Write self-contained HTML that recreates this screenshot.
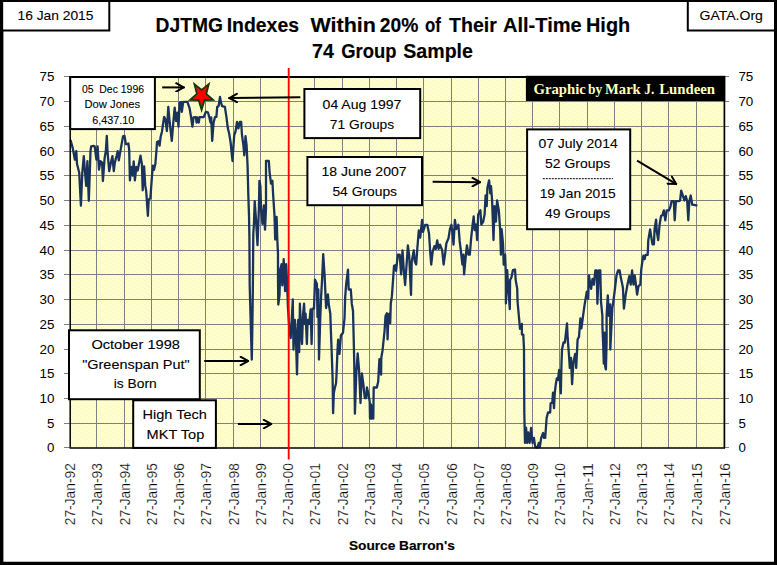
<!DOCTYPE html>
<html lang="en"><head><meta charset="utf-8"><title>DJTMG Indexes Within 20% of Their All-Time High</title>
<style>html,body{margin:0;padding:0;background:#fff;}body{width:777px;height:565px;overflow:hidden;}svg{display:block;}text{font-family:"Liberation Sans",sans-serif;fill:#000;stroke:#000;stroke-width:0.1px;}.b{font-weight:bold;}.b{stroke-width:0.15px;}.ax{stroke:none;}.xl{stroke:#fff;stroke-width:0.2px;}.ser{font-family:"Liberation Serif",serif;font-weight:bold;fill:#FFFFC0;stroke:none;}</style></head><body>
<svg width="777" height="565" viewBox="0 0 777 565">
<defs><pattern id="dots" width="8" height="8" patternUnits="userSpaceOnUse"><rect width="8" height="8" fill="#FFFFCC"/><path d="M0,0h1v1h-1zM4,1h1v1h-1zM2,2h1v1h-1zM6,3h1v1h-1zM1,4h1v1h-1zM4,5h1v1h-1zM7,6h1v1h-1zM2,6h1v1h-1zM5,7h1v1h-1z" fill="#F7EFC5"/></pattern><marker id="ah" viewBox="0 0 10 10" refX="9.8" refY="5" markerWidth="10" markerHeight="10" markerUnits="userSpaceOnUse" orient="auto"><path d="M1.5,0.8 L9,5 L1.5,9.2" fill="none" stroke="#000" stroke-width="2" stroke-linecap="round" stroke-linejoin="miter"/></marker></defs>
<rect x="0" y="0" width="777" height="565" fill="#fff"/>
<rect x="70.2" y="76.46" width="654.20" height="371.14" fill="url(#dots)"/>
<path d="M96.50,76.46V447.60M124.50,76.46V447.60M151.50,76.46V447.60M178.50,76.46V447.60M205.50,76.46V447.60M233.50,76.46V447.60M260.50,76.46V447.60M288.00,76.46V447.60M314.50,76.46V447.60M342.50,76.46V447.60M369.50,76.46V447.60M396.50,76.46V447.60M423.50,76.46V447.60M451.50,76.46V447.60M478.50,76.46V447.60M505.50,76.46V447.60M532.50,76.46V447.60M559.50,76.46V447.60M587.50,76.46V447.60M614.50,76.46V447.60M641.50,76.46V447.60M668.50,76.46V447.60M696.50,76.46V447.60M70.2,423.50H724.40M70.2,398.50H724.40M70.2,373.50H724.40M70.2,349.50H724.40M70.2,324.50H724.40M70.2,299.50H724.40M70.2,274.50H724.40M70.2,250.50H724.40M70.2,225.50H724.40M70.2,200.50H724.40M70.2,175.50H724.40M70.2,151.50H724.40M70.2,126.50H724.40M70.2,101.50H724.40" stroke="#808080" stroke-width="1" fill="none" shape-rendering="crispEdges"/>
<path d="M63.90,447.60H70.2M724.40,447.60H729.00M63.90,423.50H70.2M724.40,423.50H729.00M63.90,398.50H70.2M724.40,398.50H729.00M63.90,373.50H70.2M724.40,373.50H729.00M63.90,349.50H70.2M724.40,349.50H729.00M63.90,324.50H70.2M724.40,324.50H729.00M63.90,299.50H70.2M724.40,299.50H729.00M63.90,274.50H70.2M724.40,274.50H729.00M63.90,250.50H70.2M724.40,250.50H729.00M63.90,225.50H70.2M724.40,225.50H729.00M63.90,200.50H70.2M724.40,200.50H729.00M63.90,175.50H70.2M724.40,175.50H729.00M63.90,151.50H70.2M724.40,151.50H729.00M63.90,126.50H70.2M724.40,126.50H729.00M63.90,101.50H70.2M724.40,101.50H729.00M63.90,76.46H70.2M724.40,76.46H729.00" stroke="#808080" stroke-width="1" fill="none" shape-rendering="crispEdges"/>
<path d="M70.7,140.6 L72.8,148.4 L74.9,159.7 L76.3,151.2 L77.0,164.0 L79.2,172.5 L80.9,205.7 L82.3,172.5 L83.8,156.2 L84.8,169.6 L86.2,185.9 L87.4,161.2 L88.8,200.8 L89.8,172.5 L90.5,151.2 L91.2,146.3 L93.3,145.9 L94.7,146.3 L96.4,159.7 L97.6,146.3 L99.0,169.6 L100.4,161.2 L102.1,162.6 L102.9,181.0 L104.6,158.3 L105.8,151.2 L106.8,135.9 L107.5,151.2 L109.2,171.1 L110.6,164.0 L112.4,156.2 L113.8,171.1 L114.8,162.6 L116.7,155.5 L117.7,151.2 L118.8,160.4 L120.9,148.4 L123.0,136.4 L124.5,135.9 L125.9,144.2 L127.3,144.2 L128.4,143.4 L129.2,150.0 L129.9,180.4 L131.3,167.0 L132.7,175.5 L133.7,161.3 L134.9,180.4 L136.3,167.0 L137.7,170.5 L140.5,155.7 L141.9,164.2 L142.7,190.3 L144.1,166.3 L145.2,185.4 L146.2,191.1 L147.9,215.8 L148.7,199.6 L150.4,198.1 L151.8,178.3 L152.8,165.6 L154.0,169.8 L155.4,163.4 L156.5,150.0 L157.0,142.0 L158.4,141.3 L159.6,145.6 L160.6,137.1 L162.0,131.4 L164.1,116.8 L165.5,119.6 L166.9,131.0 L168.3,106.9 L169.7,122.5 L171.8,140.9 L173.3,122.5 L174.7,107.6 L176.1,121.1 L177.5,112.6 L178.5,126.7 L179.6,102.7 L181.1,101.9 L181.8,111.8 L183.2,101.9 L187.4,101.9 L189.6,108.3 L191.0,116.8 L192.4,126.7 L193.5,117.5 L195.9,117.1 L196.6,122.5 L197.3,117.5 L198.8,122.5 L199.5,117.1 L203.7,117.1 L205.8,111.8 L207.9,112.3 L209.4,117.5 L210.5,122.5 L211.2,117.5 L212.2,140.9 L213.6,122.5 L215.0,117.1 L216.4,116.8 L217.2,106.9 L218.6,106.2 L220.0,97.0 L221.0,102.7 L222.1,106.2 L224.9,106.9 L226.4,116.8 L227.8,128.1 L229.2,133.8 L230.6,142.3 L232.0,156.4 L232.5,161.0 L233.4,146.8 L234.2,135.5 L235.6,131.2 L237.0,122.0 L238.4,128.4 L239.8,122.0 L241.2,122.0 L241.9,134.1 L243.4,145.4 L244.3,155.3 L245.5,136.2 L246.6,145.4 L247.6,166.6 L248.3,194.2 L249.0,215.4 L249.4,236.6 L249.7,285.4 L250.9,330.0 L251.8,359.6 L252.3,330.0 L252.8,292.5 L253.3,233.8 L254.0,222.5 L254.7,201.2 L256.1,221.1 L257.5,245.1 L258.9,208.3 L259.4,180.8 L260.4,186.4 L261.1,209.7 L262.5,223.9 L263.9,205.5 L265.0,229.6 L266.0,208.3 L266.0,161.0 L268.8,161.0 L269.6,172.3 L271.0,183.6 L272.4,180.8 L273.1,194.2 L274.5,215.4 L275.2,239.5 L276.6,216.8 L277.3,239.5 L278.0,253.6 L278.0,278.3 L278.3,304.5 L279.5,295.3 L280.2,269.8 L281.6,264.2 L282.3,285.4 L283.7,259.2 L285.1,291.1 L286.2,264.2 L287.2,285.4 L287.9,306.6 L289.4,330.0 L290.7,338.0 L292.8,299.5 L293.5,349.6 L294.9,320.0 L295.7,330.0 L297.0,374.4 L298.2,320.0 L299.2,352.0 L299.9,303.7 L301.0,330.0 L302.0,344.0 L303.0,315.0 L304.1,303.7 L304.8,324.0 L305.6,313.7 L306.9,344.0 L307.6,320.0 L309.1,324.0 L310.6,309.5 L311.6,344.0 L312.5,308.7 L314.0,308.7 L315.0,279.6 L316.9,284.0 L317.5,317.0 L318.3,289.5 L319.0,359.5 L320.2,320.0 L321.1,296.6 L322.1,279.6 L323.2,254.2 L324.6,275.4 L326.1,308.0 L327.9,294.5 L328.9,305.1 L330.3,313.6 L330.8,328.4 L331.7,352.5 L332.6,378.0 L333.1,413.2 L333.8,393.4 L334.5,389.2 L336.0,383.5 L336.5,375.1 L337.4,352.5 L338.1,339.7 L339.5,353.9 L340.9,335.5 L343.0,332.7 L344.5,318.5 L345.2,296.6 L346.2,283.9 L348.0,269.7 L348.7,289.5 L350.8,289.5 L351.8,303.7 L353.0,310.8 L354.2,359.2 L354.9,413.7 L356.3,373.3 L357.7,353.5 L359.1,370.5 L360.5,403.0 L361.9,373.3 L363.4,384.6 L364.8,398.1 L366.2,398.1 L366.9,387.5 L368.3,393.1 L369.7,401.6 L370.0,418.6 L370.9,404.5 L371.6,418.6 L372.4,405.9 L373.3,418.6 L373.7,387.5 L376.8,387.5 L378.2,381.8 L379.4,359.2 L381.1,374.7 L381.3,357.7 L382.5,350.7 L384.5,331.6 L385.5,316.1 L386.9,313.2 L387.6,339.4 L388.4,314.6 L389.8,313.2 L390.2,323.1 L390.8,303.3 L391.9,296.2 L392.9,282.1 L394.0,265.9 L395.4,265.2 L396.1,270.8 L397.8,254.6 L399.7,254.6 L401.1,274.4 L402.5,250.3 L403.9,271.5 L405.1,285.0 L406.8,261.6 L407.9,245.3 L409.2,256.0 L411.0,294.9 L411.7,261.6 L413.8,250.3 L414.8,261.6 L416.2,264.5 L417.4,247.5 L418.8,230.5 L420.2,237.6 L422.1,219.9 L423.0,231.9 L425.2,224.8 L427.3,224.8 L429.0,233.3 L430.1,250.3 L431.2,264.5 L432.7,251.7 L434.4,246.1 L435.8,248.9 L437.2,240.4 L438.6,248.9 L440.0,244.6 L442.2,250.3 L443.6,264.5 L445.0,254.6 L446.4,243.2 L448.5,238.3 L449.9,229.1 L451.4,224.8 L452.5,233.3 L453.5,244.6 L454.9,219.9 L456.3,229.1 L458.4,224.8 L459.6,240.4 L461.3,254.6 L462.4,264.5 L463.4,254.6 L464.1,274.4 L465.8,256.0 L466.9,245.3 L468.4,254.6 L469.8,254.6 L471.2,237.6 L472.6,224.8 L473.7,216.3 L474.7,230.1 L476.1,224.5 L477.1,240.0 L478.2,214.6 L480.4,210.3 L481.3,224.5 L483.2,221.6 L484.6,214.6 L485.6,195.4 L486.7,206.1 L487.4,187.7 L489.1,180.3 L490.3,193.3 L491.0,186.2 L492.1,200.4 L493.5,240.0 L494.5,206.1 L495.9,221.6 L497.1,200.4 L498.8,210.3 L500.2,230.1 L500.9,254.6 L501.6,229.2 L503.0,243.3 L503.7,264.6 L505.1,254.6 L505.8,274.5 L505.9,303.4 L507.2,270.2 L507.9,282.9 L509.8,309.1 L510.1,280.1 L511.5,277.3 L512.9,270.2 L515.0,269.5 L515.7,280.1 L517.2,288.6 L517.6,302.0 L519.0,317.6 L520.0,328.9 L521.9,323.9 L521.9,334.6 L523.3,334.6 L524.0,348.7 L524.3,412.5 L525.0,442.9 L526.1,428.0 L527.1,442.9 L528.2,432.3 L529.6,442.9 L531.1,428.0 L532.5,442.9 L533.9,437.9 L535.3,447.2 L537.4,447.6 L538.8,442.9 L539.8,447.2 L541.2,437.9 L543.1,433.0 L544.1,437.9 L545.2,437.9 L546.6,418.1 L548.0,412.5 L550.2,412.5 L550.6,403.3 L552.3,402.6 L553.0,392.6 L554.0,408.2 L554.8,392.6 L555.8,384.2 L556.8,378.5 L558.0,379.9 L559.1,370.0 L560.8,393.4 L561.5,362.9 L562.0,349.6 L563.5,342.5 L564.9,342.5 L567.0,323.4 L567.7,338.2 L569.1,356.6 L569.8,367.9 L571.0,358.0 L572.1,384.2 L573.4,362.3 L575.2,353.8 L576.2,367.9 L577.6,339.6 L579.0,336.8 L580.4,318.4 L581.4,328.3 L583.3,314.2 L584.7,304.2 L586.8,291.7 L588.2,298.8 L588.9,275.4 L591.1,288.9 L592.5,279.0 L593.9,284.6 L595.3,270.5 L596.7,270.5 L597.4,303.8 L598.8,270.5 L600.3,270.5 L601.0,301.6 L602.4,315.8 L602.4,325.5 L603.1,342.5 L603.8,363.7 L604.6,332.6 L605.2,366.5 L605.9,369.4 L606.6,342.5 L606.6,315.8 L607.8,295.3 L608.8,315.8 L610.2,304.5 L610.3,349.5 L612.3,308.7 L613.7,298.8 L615.1,287.5 L616.5,275.4 L618.0,270.5 L619.6,270.5 L620.8,277.6 L622.9,287.5 L623.9,308.7 L625.7,294.6 L627.2,286.1 L629.3,276.1 L630.7,284.6 L632.1,270.5 L633.5,284.6 L634.7,275.4 L636.1,286.1 L637.1,294.6 L638.5,286.1 L640.3,284.6 L641.3,269.1 L642.7,259.2 L643.4,255.6 L644.6,259.2 L645.6,254.9 L647.7,254.9 L648.3,240.1 L650.1,229.5 L651.1,235.9 L652.5,244.4 L653.9,244.4 L654.6,228.8 L656.1,219.6 L656.8,231.6 L658.2,240.1 L659.6,224.6 L661.0,216.1 L662.4,215.3 L663.8,210.4 L665.3,220.3 L666.7,210.4 L668.8,210.4 L670.2,207.6 L671.6,201.2 L673.8,201.2 L674.7,220.3 L675.9,201.2 L678.7,201.2 L680.1,200.5 L681.2,190.6 L683.0,196.2 L684.4,200.5 L685.8,196.2 L687.2,201.2 L688.3,220.3 L689.3,201.2 L690.7,195.5 L692.2,204.7 L696.4,205.4" stroke="#1a335c" stroke-width="2.3" fill="none" stroke-linejoin="round" stroke-linecap="round"/>
<path d="M69.5,77H725.10" stroke="#000" stroke-width="2"/>
<path d="M70.2,76.46V447.60" stroke="#000" stroke-width="1.5"/>
<path d="M724.40,76.46V448.20" stroke="#000" stroke-width="1.7"/>
<path d="M69.60000000000001,447.90H725.00" stroke="#000" stroke-width="1.5"/>
<path d="M288.7,68V459.5" stroke="#f00" stroke-width="1.85"/>
<rect x="525.9" y="75.8" width="199.3" height="25.2" fill="#000"/>
<text class="ser" x="533.50" y="94.2" font-size="13.9" textLength="52.39" lengthAdjust="spacingAndGlyphs">Graphic</text>
<text class="ser" x="588.10" y="94.2" font-size="13.9" textLength="14.24" lengthAdjust="spacingAndGlyphs">by</text>
<text class="ser" x="605.10" y="94.2" font-size="13.9" textLength="35.64" lengthAdjust="spacingAndGlyphs">Mark</text>
<text class="ser" x="644.30" y="94.2" font-size="13.9" textLength="10.03" lengthAdjust="spacingAndGlyphs">J.</text>
<text class="ser" x="659.20" y="94.2" font-size="13.9" textLength="55.84" lengthAdjust="spacingAndGlyphs">Lundeen</text>
<rect x="70.20" y="77.00" width="84.70" height="52.10" fill="#fff" stroke="#000" stroke-width="2"/>
<text x="81.90" y="92.8" font-size="11.4" textLength="62.11" lengthAdjust="spacingAndGlyphs">05 &#160;Dec 1996</text>
<text x="84.50" y="108.1" font-size="11.4" textLength="55.50" lengthAdjust="spacingAndGlyphs">Dow Jones</text>
<text x="92.20" y="123.5" font-size="11.4" textLength="42.02" lengthAdjust="spacingAndGlyphs">6,437.10</text>
<rect x="304.40" y="89.00" width="115.80" height="49.10" fill="#fff" stroke="#000" stroke-width="2"/>
<text x="322.60" y="108.5" font-size="13.3" textLength="78.81" lengthAdjust="spacingAndGlyphs">04 Aug 1997</text>
<text x="329.80" y="128.6" font-size="13.3" textLength="64.34" lengthAdjust="spacingAndGlyphs">71 Groups</text>
<rect x="307.40" y="157.00" width="114.60" height="48.20" fill="#fff" stroke="#000" stroke-width="2"/>
<text x="321.55" y="175.8" font-size="13.3" textLength="84.97" lengthAdjust="spacingAndGlyphs">18 June 2007</text>
<text x="332.40" y="195.9" font-size="13.3" textLength="64.63" lengthAdjust="spacingAndGlyphs">54 Groups</text>
<rect x="527.10" y="129.40" width="103.10" height="99.80" fill="#fff" stroke="#000" stroke-width="2"/>
<text x="538.40" y="148.3" font-size="13.3" textLength="79.32" lengthAdjust="spacingAndGlyphs">07 July 2014</text>
<text x="545.10" y="167.9" font-size="13.3" textLength="65.03" lengthAdjust="spacingAndGlyphs">52 Groups</text>
<path d="M542.8,178.7H612.9" stroke="#000" stroke-width="1" stroke-dasharray="2,1"/>
<text x="539.66" y="197.7" font-size="13.3" textLength="75.95" lengthAdjust="spacingAndGlyphs">19 Jan 2015</text>
<text x="545.10" y="217.5" font-size="13.3" textLength="65.03" lengthAdjust="spacingAndGlyphs">49 Groups</text>
<rect x="69.00" y="330.30" width="130.80" height="68.90" fill="#fff" stroke="#000" stroke-width="2"/>
<text x="91.40" y="349.1" font-size="13.3" textLength="88.53" lengthAdjust="spacingAndGlyphs">October 1998</text>
<text x="82.20" y="368.5" font-size="13.3" textLength="107.50" lengthAdjust="spacingAndGlyphs">"Greenspan Put"</text>
<text x="113.70" y="388.1" font-size="13.3" textLength="43.01" lengthAdjust="spacingAndGlyphs">is Born</text>
<rect x="133.20" y="400.30" width="82.70" height="47.60" fill="#fff" stroke="#000" stroke-width="2"/>
<text x="142.51" y="419.0" font-size="13.3" textLength="64.32" lengthAdjust="spacingAndGlyphs">High Tech</text>
<text x="146.62" y="438.9" font-size="13.3" textLength="57.71" lengthAdjust="spacingAndGlyphs">MKT Top</text>
<path d="M162.2,87.4L184.5,87.4" stroke="#000" stroke-width="2" fill="none" marker-end="url(#ah)"/>
<path d="M300.3,97.2L228.6,98.1" stroke="#000" stroke-width="2" fill="none" marker-end="url(#ah)"/>
<path d="M432.6,181.8L480.8,182.2" stroke="#000" stroke-width="2" fill="none" marker-end="url(#ah)"/>
<path d="M637.1,160.6L676.8,184.4" stroke="#000" stroke-width="2" fill="none" marker-end="url(#ah)"/>
<path d="M204.2,361L249,361" stroke="#000" stroke-width="2" fill="none" marker-end="url(#ah)"/>
<path d="M237.9,424.1L272.1,424.1" stroke="#000" stroke-width="2" fill="none" marker-end="url(#ah)"/>
<polygon points="201.6,109.9 198.7,100.2 190.0,100.0 196.9,93.8 194.4,84.1 201.6,89.9 208.8,84.1 206.3,93.8 213.2,100.0 204.5,100.2" fill="#ff0000" stroke="#0d3b0d" stroke-width="1.8" stroke-linejoin="miter"/>
<text class="ax" x="47.0" y="452.3" font-size="13.4" textLength="7.4" lengthAdjust="spacingAndGlyphs">0</text>
<text class="ax" x="738.4" y="452.3" font-size="13.4" textLength="7.4" lengthAdjust="spacingAndGlyphs">0</text>
<text class="ax" x="47.0" y="428.2" font-size="13.4" textLength="7.4" lengthAdjust="spacingAndGlyphs">5</text>
<text class="ax" x="738.4" y="428.2" font-size="13.4" textLength="7.4" lengthAdjust="spacingAndGlyphs">5</text>
<text class="ax" x="39.5" y="403.2" font-size="13.4" textLength="14.9" lengthAdjust="spacingAndGlyphs">10</text>
<text class="ax" x="738.4" y="403.2" font-size="13.4" textLength="14.9" lengthAdjust="spacingAndGlyphs">10</text>
<text class="ax" x="39.5" y="378.2" font-size="13.4" textLength="14.9" lengthAdjust="spacingAndGlyphs">15</text>
<text class="ax" x="738.4" y="378.2" font-size="13.4" textLength="14.9" lengthAdjust="spacingAndGlyphs">15</text>
<text class="ax" x="39.5" y="354.2" font-size="13.4" textLength="14.9" lengthAdjust="spacingAndGlyphs">20</text>
<text class="ax" x="738.4" y="354.2" font-size="13.4" textLength="14.9" lengthAdjust="spacingAndGlyphs">20</text>
<text class="ax" x="39.5" y="329.2" font-size="13.4" textLength="14.9" lengthAdjust="spacingAndGlyphs">25</text>
<text class="ax" x="738.4" y="329.2" font-size="13.4" textLength="14.9" lengthAdjust="spacingAndGlyphs">25</text>
<text class="ax" x="39.5" y="304.2" font-size="13.4" textLength="14.9" lengthAdjust="spacingAndGlyphs">30</text>
<text class="ax" x="738.4" y="304.2" font-size="13.4" textLength="14.9" lengthAdjust="spacingAndGlyphs">30</text>
<text class="ax" x="39.5" y="279.2" font-size="13.4" textLength="14.9" lengthAdjust="spacingAndGlyphs">35</text>
<text class="ax" x="738.4" y="279.2" font-size="13.4" textLength="14.9" lengthAdjust="spacingAndGlyphs">35</text>
<text class="ax" x="39.5" y="255.2" font-size="13.4" textLength="14.9" lengthAdjust="spacingAndGlyphs">40</text>
<text class="ax" x="738.4" y="255.2" font-size="13.4" textLength="14.9" lengthAdjust="spacingAndGlyphs">40</text>
<text class="ax" x="39.5" y="230.2" font-size="13.4" textLength="14.9" lengthAdjust="spacingAndGlyphs">45</text>
<text class="ax" x="738.4" y="230.2" font-size="13.4" textLength="14.9" lengthAdjust="spacingAndGlyphs">45</text>
<text class="ax" x="39.5" y="205.2" font-size="13.4" textLength="14.9" lengthAdjust="spacingAndGlyphs">50</text>
<text class="ax" x="738.4" y="205.2" font-size="13.4" textLength="14.9" lengthAdjust="spacingAndGlyphs">50</text>
<text class="ax" x="39.5" y="180.2" font-size="13.4" textLength="14.9" lengthAdjust="spacingAndGlyphs">55</text>
<text class="ax" x="738.4" y="180.2" font-size="13.4" textLength="14.9" lengthAdjust="spacingAndGlyphs">55</text>
<text class="ax" x="39.5" y="156.2" font-size="13.4" textLength="14.9" lengthAdjust="spacingAndGlyphs">60</text>
<text class="ax" x="738.4" y="156.2" font-size="13.4" textLength="14.9" lengthAdjust="spacingAndGlyphs">60</text>
<text class="ax" x="39.5" y="131.2" font-size="13.4" textLength="14.9" lengthAdjust="spacingAndGlyphs">65</text>
<text class="ax" x="738.4" y="131.2" font-size="13.4" textLength="14.9" lengthAdjust="spacingAndGlyphs">65</text>
<text class="ax" x="39.5" y="106.2" font-size="13.4" textLength="14.9" lengthAdjust="spacingAndGlyphs">70</text>
<text class="ax" x="738.4" y="106.2" font-size="13.4" textLength="14.9" lengthAdjust="spacingAndGlyphs">70</text>
<text class="ax" x="39.5" y="81.2" font-size="13.4" textLength="14.9" lengthAdjust="spacingAndGlyphs">75</text>
<text class="ax" x="738.4" y="81.2" font-size="13.4" textLength="14.9" lengthAdjust="spacingAndGlyphs">75</text>
<text transform="translate(75.30,525.2) rotate(-90)" class="xl" font-size="14.4" textLength="62" lengthAdjust="spacingAndGlyphs">27-Jan-92</text>
<text transform="translate(101.60,525.2) rotate(-90)" class="xl" font-size="14.4" textLength="62" lengthAdjust="spacingAndGlyphs">27-Jan-93</text>
<text transform="translate(129.60,525.2) rotate(-90)" class="xl" font-size="14.4" textLength="62" lengthAdjust="spacingAndGlyphs">27-Jan-94</text>
<text transform="translate(156.60,525.2) rotate(-90)" class="xl" font-size="14.4" textLength="62" lengthAdjust="spacingAndGlyphs">27-Jan-95</text>
<text transform="translate(183.60,525.2) rotate(-90)" class="xl" font-size="14.4" textLength="62" lengthAdjust="spacingAndGlyphs">27-Jan-96</text>
<text transform="translate(210.60,525.2) rotate(-90)" class="xl" font-size="14.4" textLength="62" lengthAdjust="spacingAndGlyphs">27-Jan-97</text>
<text transform="translate(238.60,525.2) rotate(-90)" class="xl" font-size="14.4" textLength="62" lengthAdjust="spacingAndGlyphs">27-Jan-98</text>
<text transform="translate(265.60,525.2) rotate(-90)" class="xl" font-size="14.4" textLength="62" lengthAdjust="spacingAndGlyphs">27-Jan-99</text>
<text transform="translate(293.10,525.2) rotate(-90)" class="xl" font-size="14.4" textLength="62" lengthAdjust="spacingAndGlyphs">27-Jan-00</text>
<text transform="translate(319.60,525.2) rotate(-90)" class="xl" font-size="14.4" textLength="62" lengthAdjust="spacingAndGlyphs">27-Jan-01</text>
<text transform="translate(347.60,525.2) rotate(-90)" class="xl" font-size="14.4" textLength="62" lengthAdjust="spacingAndGlyphs">27-Jan-02</text>
<text transform="translate(374.60,525.2) rotate(-90)" class="xl" font-size="14.4" textLength="62" lengthAdjust="spacingAndGlyphs">27-Jan-03</text>
<text transform="translate(401.60,525.2) rotate(-90)" class="xl" font-size="14.4" textLength="62" lengthAdjust="spacingAndGlyphs">27-Jan-04</text>
<text transform="translate(428.60,525.2) rotate(-90)" class="xl" font-size="14.4" textLength="62" lengthAdjust="spacingAndGlyphs">27-Jan-05</text>
<text transform="translate(456.60,525.2) rotate(-90)" class="xl" font-size="14.4" textLength="62" lengthAdjust="spacingAndGlyphs">27-Jan-06</text>
<text transform="translate(483.60,525.2) rotate(-90)" class="xl" font-size="14.4" textLength="62" lengthAdjust="spacingAndGlyphs">27-Jan-07</text>
<text transform="translate(510.60,525.2) rotate(-90)" class="xl" font-size="14.4" textLength="62" lengthAdjust="spacingAndGlyphs">27-Jan-08</text>
<text transform="translate(537.60,525.2) rotate(-90)" class="xl" font-size="14.4" textLength="62" lengthAdjust="spacingAndGlyphs">27-Jan-09</text>
<text transform="translate(564.60,525.2) rotate(-90)" class="xl" font-size="14.4" textLength="62" lengthAdjust="spacingAndGlyphs">27-Jan-10</text>
<text transform="translate(592.60,525.2) rotate(-90)" class="xl" font-size="14.4" textLength="62" lengthAdjust="spacingAndGlyphs">27-Jan-11</text>
<text transform="translate(619.60,525.2) rotate(-90)" class="xl" font-size="14.4" textLength="62" lengthAdjust="spacingAndGlyphs">27-Jan-12</text>
<text transform="translate(646.60,525.2) rotate(-90)" class="xl" font-size="14.4" textLength="62" lengthAdjust="spacingAndGlyphs">27-Jan-13</text>
<text transform="translate(673.60,525.2) rotate(-90)" class="xl" font-size="14.4" textLength="62" lengthAdjust="spacingAndGlyphs">27-Jan-14</text>
<text transform="translate(701.60,525.2) rotate(-90)" class="xl" font-size="14.4" textLength="62" lengthAdjust="spacingAndGlyphs">27-Jan-15</text>
<text transform="translate(729.50,525.2) rotate(-90)" class="xl" font-size="14.4" textLength="62" lengthAdjust="spacingAndGlyphs">27-Jan-16</text>
<text class="b" x="155.54" y="31.6" font-size="20" textLength="67.40" lengthAdjust="spacingAndGlyphs">DJTMG</text>
<text class="b" x="226.73" y="31.6" font-size="20" textLength="72.29" lengthAdjust="spacingAndGlyphs">Indexes</text>
<text class="b" x="310.40" y="31.6" font-size="20" textLength="65.51" lengthAdjust="spacingAndGlyphs">Within</text>
<text class="b" x="379.80" y="31.6" font-size="20" textLength="38.59" lengthAdjust="spacingAndGlyphs">20%</text>
<text class="b" x="425.00" y="31.6" font-size="20" textLength="15.91" lengthAdjust="spacingAndGlyphs">of</text>
<text class="b" x="449.00" y="31.6" font-size="20" textLength="47.79" lengthAdjust="spacingAndGlyphs">Their</text>
<text class="b" x="503.00" y="31.6" font-size="20" textLength="78.72" lengthAdjust="spacingAndGlyphs">All-Time</text>
<text class="b" x="586.01" y="31.6" font-size="20" textLength="44.21" lengthAdjust="spacingAndGlyphs">High</text>
<text class="b" x="312.00" y="58.3" font-size="20" textLength="21.84" lengthAdjust="spacingAndGlyphs">74</text>
<text class="b" x="341.20" y="58.3" font-size="20" textLength="55.20" lengthAdjust="spacingAndGlyphs">Group</text>
<text class="b" x="403.30" y="58.3" font-size="20" textLength="69.62" lengthAdjust="spacingAndGlyphs">Sample</text>
<text class="b" x="348.90" y="549.7" font-size="13.2" textLength="105.95" lengthAdjust="spacingAndGlyphs">Source Barron's</text>
<path d="M0,0H777V565H0Z M3.4,2H774V561.8H3.4Z" fill="#000" fill-rule="evenodd"/>
<rect x="3.4" y="2" width="105.6" height="28.6" fill="#fff"/><path d="M109.3,2V31.4M3,30.6H110.3" stroke="#000" stroke-width="2" fill="none"/>
<text x="17.46" y="19.8" font-size="13.3" textLength="75.95" lengthAdjust="spacingAndGlyphs">16 Jan 2015</text>
<rect x="688.6" y="2" width="85.4" height="28.6" fill="#fff"/><path d="M687.8,2V31.4M686.8,30.6H774.5" stroke="#000" stroke-width="2" fill="none"/>
<text x="699.50" y="19.8" font-size="13.3" textLength="63.42" lengthAdjust="spacingAndGlyphs">GATA.Org</text>
</svg></body></html>
